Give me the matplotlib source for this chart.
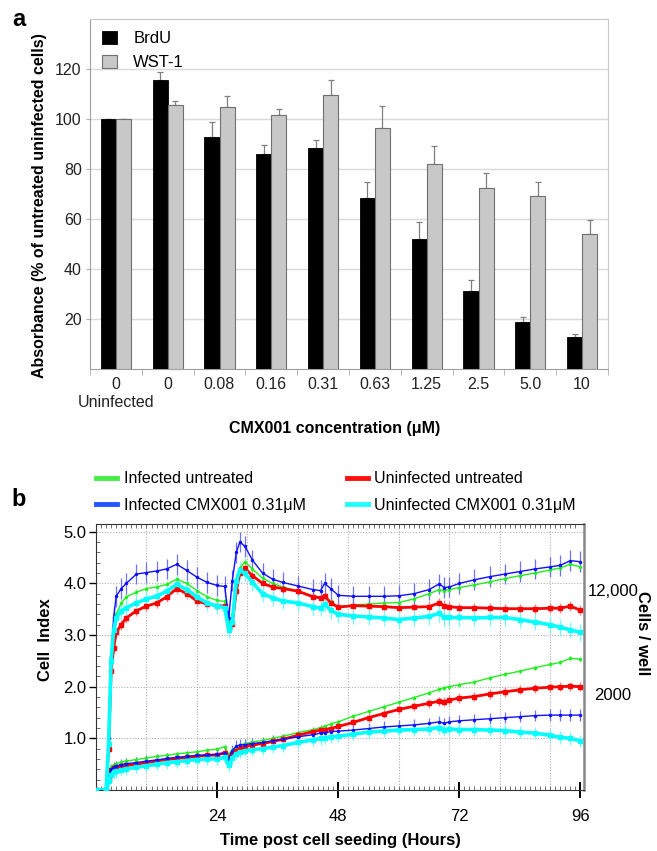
import numpy as np
import matplotlib
matplotlib.use("Agg")
import matplotlib.pyplot as plt
from matplotlib.lines import Line2D
from matplotlib.ticker import MultipleLocator, FixedLocator

plt.rcParams['font.family'] = ['Liberation Sans', 'DejaVu Sans']

# ---- panel a data ----
conc_labels = ['0\nUninfected', '0', '0.08', '0.16', '0.31', '0.63', '1.25', '2.5', '5.0', '10']
brdu = [100, 115.5, 92.8, 86.0, 88.5, 68.5, 51.9, 31.1, 18.8, 12.9]
brdu_err = [0, 3.3, 6.0, 3.6, 3.2, 6.2, 6.8, 4.4, 2.1, 1.0]
wst = [100, 105.5, 104.7, 101.5, 109.5, 96.4, 82.0, 72.4, 69.3, 54.1]
wst_err = [0, 1.7, 4.6, 2.4, 6.0, 8.9, 7.0, 5.9, 5.6, 5.4]

# ---- panel b data (cell index vs hours) ----
hours = [0, 2, 2.5, 3, 3.5, 4, 5, 6, 8, 10, 12, 14, 16, 18, 20, 22, 24, 25.5, 26.3, 27,
         27.8, 28.5, 29.5, 31, 33, 35, 37, 40, 43, 44.5, 45.3, 46.5, 48, 51, 54, 57, 60,
         63, 66, 68, 69, 70, 72, 75, 78, 81, 84, 87, 90, 92, 94, 96]

# 12,000 cells / well
inf_untr_hi = [0, 0, 1.0, 2.6, 3.1, 3.4, 3.62, 3.74, 3.83, 3.9, 3.93, 3.98, 4.08, 4.0, 3.86, 3.74,
               3.67, 3.65, 3.22, 3.38, 4.0, 4.29, 4.42, 4.28, 4.1, 4.0, 3.93, 3.85, 3.76, 3.72,
               3.74, 3.65, 3.55, 3.58, 3.6, 3.62, 3.63, 3.7, 3.8, 3.88, 3.86, 3.88, 3.92, 3.97,
               4.03, 4.09, 4.15, 4.2, 4.26, 4.3, 4.37, 4.32]
uninf_untr_hi = [0, 0, 0.8, 2.3, 2.75, 3.05, 3.2, 3.33, 3.47, 3.56, 3.62, 3.74, 3.9, 3.8, 3.66, 3.6,
                 3.57, 3.56, 3.16, 3.22, 3.85, 4.2, 4.29, 4.15, 4.0, 3.93, 3.9, 3.85, 3.74, 3.72,
                 3.76, 3.62, 3.54, 3.57, 3.56, 3.55, 3.53, 3.54, 3.55, 3.62, 3.57, 3.55, 3.53, 3.53,
                 3.52, 3.51, 3.51, 3.51, 3.52, 3.52, 3.56, 3.48]
inf_cmx_hi = [0, 0, 1.0, 2.6, 3.35, 3.75, 3.9, 4.0, 4.18, 4.21, 4.24, 4.28, 4.37, 4.25, 4.12, 4.02,
              3.96, 3.94, 3.33, 4.05, 4.6, 4.8, 4.72, 4.45, 4.2, 4.08, 4.02, 3.95, 3.88, 3.86,
              4.0, 3.9, 3.77, 3.75, 3.75, 3.75, 3.76, 3.8, 3.88, 3.99, 3.92, 3.93, 4.0, 4.07,
              4.13, 4.18, 4.23, 4.28, 4.32, 4.35, 4.44, 4.42]
uninf_cmx_hi = [0, 0, 0.9, 2.5, 3.1, 3.33, 3.46, 3.53, 3.62, 3.7, 3.75, 3.85, 3.98, 3.88, 3.74, 3.62,
                3.56, 3.53, 3.1, 3.25, 4.05, 4.25, 4.2, 4.02, 3.8, 3.72, 3.66, 3.62, 3.55, 3.52,
                3.6, 3.48, 3.4, 3.37, 3.35, 3.33, 3.3, 3.33, 3.36, 3.42, 3.34, 3.34, 3.34, 3.33,
                3.34, 3.34, 3.3, 3.25, 3.2, 3.15, 3.1, 3.05]

# 2000 cells / well
inf_untr_lo = [0, 0, 0.3, 0.45, 0.49, 0.51, 0.54, 0.56, 0.59, 0.62, 0.65, 0.67, 0.7, 0.72, 0.74, 0.77,
               0.79, 0.84, 0.68, 0.78, 0.84, 0.87, 0.9, 0.93, 0.96, 1.0, 1.04, 1.11, 1.17, 1.21,
               1.23, 1.28, 1.32, 1.43, 1.52, 1.61, 1.7, 1.79, 1.88, 1.95, 1.98, 2.0, 2.04, 2.09,
               2.17, 2.24, 2.3, 2.37, 2.43, 2.47, 2.55, 2.53]
uninf_untr_lo = [0, 0, 0.22, 0.38, 0.42, 0.44, 0.46, 0.48, 0.5, 0.53, 0.56, 0.59, 0.61, 0.63, 0.65, 0.67,
                 0.68, 0.72, 0.62, 0.7, 0.76, 0.8, 0.84, 0.87, 0.9, 0.94, 0.98, 1.06, 1.13, 1.16,
                 1.17, 1.19, 1.23, 1.31, 1.4, 1.48, 1.56, 1.62, 1.68, 1.72, 1.71, 1.74, 1.78, 1.81,
                 1.86, 1.9, 1.94, 1.97, 1.99, 2.0, 2.01, 2.0]
inf_cmx_lo = [0, 0, 0.25, 0.4, 0.44, 0.46, 0.49, 0.51, 0.53, 0.56, 0.58, 0.61, 0.63, 0.65, 0.67, 0.68,
              0.69, 0.71, 0.6, 0.76, 0.85, 0.87, 0.88, 0.9, 0.92, 0.95, 0.98, 1.03, 1.07, 1.1,
              1.11, 1.13, 1.14, 1.16, 1.19, 1.22, 1.24, 1.26, 1.29, 1.32, 1.29, 1.32, 1.34, 1.36,
              1.38, 1.4, 1.42, 1.44, 1.45, 1.45, 1.45, 1.45]
uninf_cmx_lo = [0, 0, 0.18, 0.3, 0.34, 0.36, 0.39, 0.41, 0.44, 0.47, 0.5, 0.53, 0.55, 0.57, 0.59, 0.6,
                0.6, 0.63, 0.48, 0.62, 0.7, 0.73, 0.76, 0.78, 0.8, 0.83, 0.86, 0.92, 0.97, 1.0,
                1.01, 1.03, 1.04, 1.08, 1.12, 1.14, 1.16, 1.17, 1.18, 1.21, 1.17, 1.18, 1.17, 1.17,
                1.16, 1.15, 1.12, 1.1, 1.06, 1.02, 1.0, 0.95]

# typical SD per curve
err_hi = {'inf_untr': 0.07, 'uninf_untr': 0.1, 'inf_cmx': 0.2, 'uninf_cmx': 0.16}
err_lo = {'inf_untr': 0.05, 'uninf_untr': 0.09, 'inf_cmx': 0.11, 'uninf_cmx': 0.12}

fig = plt.figure(figsize=(6.57, 8.51), dpi=100)
W, H = 657, 851


def box(l, t, r, b):
    return [l / W, 1 - b / H, (r - l) / W, (b - t) / H]


# ================= panel a =================
ax = fig.add_axes(box(90, 19, 608, 369))
x = np.arange(len(brdu))
bw = 0.29
n = len(brdu)
ax.bar(x - bw / 2, brdu, bw, color='black', edgecolor='black', lw=0.6, zorder=3, label='BrdU')
ax.bar(x + bw / 2, wst, bw, color='#c8c8c8', edgecolor='#707070', lw=0.8, zorder=3, label='WST-1')
ax.errorbar(x - bw / 2, brdu, yerr=[[0] * n, brdu_err], fmt='none', ecolor='#808080',
            elinewidth=0.9, capsize=2, capthick=0.9, zorder=2)
ax.errorbar(x + bw / 2, wst, yerr=[[0] * n, wst_err], fmt='none', ecolor='#808080',
            elinewidth=0.9, capsize=2, capthick=0.9, zorder=2)
ax.set_xlim(-0.5, n - 0.5)
ax.set_ylim(0, 140)
ax.set_yticks([20, 40, 60, 80, 100, 120])
ax.yaxis.grid(True, color='#d9d9d9', lw=1)
ax.set_axisbelow(True)
ax.set_xticks(x)
ax.set_xticklabels(conc_labels, fontsize=11.5, color='#222222')
ax.tick_params(axis='x', length=0, pad=6)
ax.xaxis.set_minor_locator(FixedLocator(np.arange(-0.5, n, 1.0)))
ax.tick_params(axis='x', which='minor', length=4, color='#b0b0b0')
ax.tick_params(axis='y', length=3, color='#b0b0b0', labelsize=11.5, labelcolor='#222222', pad=3)
for s in ax.spines.values():
    s.set_color('#c8c8c8')
ax.spines['left'].set_color('#a0a0a0')
ax.spines['bottom'].set_color('#a0a0a0')
leg = ax.legend(loc='upper left', frameon=False, fontsize=12, handlelength=0.9, handleheight=0.9,
                handletextpad=1.0, labelspacing=0.5, borderaxespad=0.3,
                bbox_to_anchor=(0.0, 1.0))
fig.text(40 / W, 1 - 206 / H, 'Absorbance (% of untreated uninfected cells)', rotation=90,
         ha='center', va='center', fontsize=11.5, fontweight='bold')
fig.text(335 / W, 1 - 428 / H, 'CMX001 concentration (\u03bcM)', ha='center', va='center',
         fontsize=11.5, fontweight='bold')
fig.text(19 / W, 1 - 20 / H, 'a', ha='center', va='center', fontsize=17, fontweight='bold')

# ================= panel b =================
bx = fig.add_axes(box(96, 524, 584, 790))
series = [
    ('inf_untr', inf_untr_hi, inf_untr_lo, '#22ee22', '#88ff88', 1.0, '.', 3),
    ('uninf_untr', uninf_untr_hi, uninf_untr_lo, '#ff0000', '#ff8080', 2.0, 's', 2.2),
    ('inf_cmx', inf_cmx_hi, inf_cmx_lo, '#1010ff', '#7070ff', 1.0, '.', 3),
    ('uninf_cmx', uninf_cmx_hi, uninf_cmx_lo, '#00ffff', '#70ffff', 2.6, 's', 2.2),
]
for key, hi, lo, col, ecol, lw, mk, ms in series:
    for vals, e in ((hi, err_hi[key]), (lo, err_lo[key])):
        errs = [0 if v == 0 else e for v in vals]
        bx.errorbar(hours, vals, yerr=errs, fmt='none', ecolor=ecol, elinewidth=0.9,
                    capsize=0, zorder=2)
        bx.plot(hours, vals, color=col, lw=lw, marker=mk, ms=ms, zorder=3)

bx.set_xlim(0, 96.7)
bx.set_ylim(0, 5.15)
bx.vlines(range(10, 100, 10), 0, 5.15, colors='#b0b0b0', linestyles=(0, (1, 1.5)), lw=0.8, zorder=1)
bx.set_yticks([1, 2, 3, 4, 5])
bx.set_yticklabels(['1.0', '2.0', '3.0', '4.0', '5.0'])
bx.yaxis.grid(True, color='#b0b0b0', ls=(0, (1, 1.5)), lw=0.8)
bx.yaxis.set_minor_locator(MultipleLocator(0.2))
bx.tick_params(axis='y', which='major', direction='out', length=5, width=1, labelsize=12, pad=2)
bx.tick_params(axis='y', which='minor', direction='in', length=3, width=0.6, color='#555555')
bx.set_xticks([24, 48, 72, 96])
bx.xaxis.set_minor_locator(MultipleLocator(1))
bx.tick_params(axis='x', which='major', direction='inout', length=12, width=1.4, labelsize=12, pad=8)
bx.tick_params(axis='x', which='minor', direction='in', length=3, width=0.6, color='#555555',
               top=True)
for s in ['left', 'bottom', 'top']:
    bx.spines[s].set_color('#333333')
    bx.spines[s].set_linewidth(0.8)
bx.spines['right'].set_color('#888888')
bx.spines['right'].set_linewidth(1.8)

handles = [Line2D([], [], color='#44ee44', lw=3.5),
           Line2D([], [], color='#2255ff', lw=3.5),
           Line2D([], [], color='#ff1010', lw=3.5),
           Line2D([], [], color='#22ffff', lw=3.5)]
labels = ['Infected untreated', 'Infected CMX001 0.31\u03bcM',
          'Uninfected untreated', 'Uninfected CMX001 0.31\u03bcM']
fig.legend(handles, labels, loc='upper left', bbox_to_anchor=(82 / W, 1 - 457 / H), ncol=2,
           frameon=False, fontsize=11.5, handlelength=1.3, handletextpad=0.4,
           columnspacing=2.6, labelspacing=0.7)

fig.text(45 / W, 1 - 640 / H, 'Cell  Index', rotation=90, ha='center', va='center',
         fontsize=12, fontweight='bold')
fig.text(340 / W, 1 - 840 / H, 'Time post cell seeding (Hours)', ha='center', va='center',
         fontsize=12, fontweight='bold')
fig.text(588 / W, 1 - 591 / H, '12,000', ha='left', va='center', fontsize=12)
fig.text(594 / W, 1 - 695 / H, '2000', ha='left', va='center', fontsize=12)
fig.text(642 / W, 1 - 633 / H, 'Cells / well', rotation=-90, ha='center', va='center',
         fontsize=12, fontweight='bold')
fig.text(19 / W, 1 - 499 / H, 'b', ha='center', va='center', fontsize=17, fontweight='bold')

fig.savefig('out.png', dpi=100)
